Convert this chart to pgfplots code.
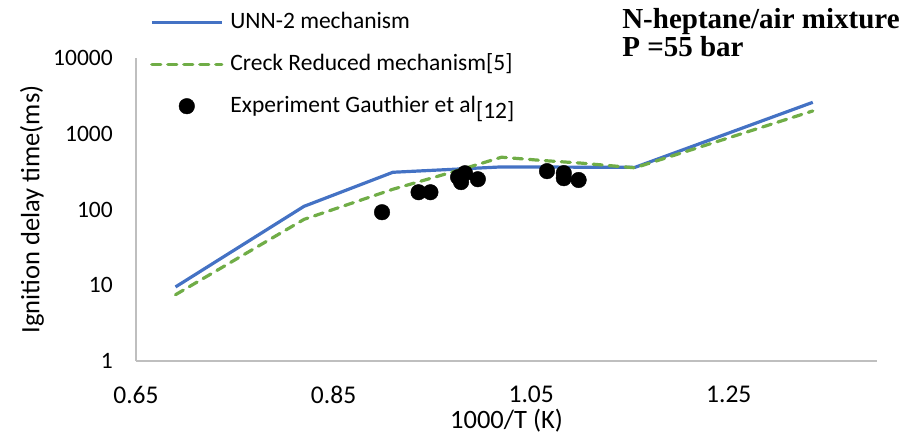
\documentclass[border=0pt]{standalone}
\usepackage{fontspec}
\setmainfont{Carlito}
\newfontfamily\titlefont{Liberation Serif}
\usepackage{pgfplots}
\pgfplotsset{compat=1.18}

\definecolor{unnblue}{HTML}{4472C4}
\definecolor{creckgreen}{HTML}{70AD47}
\definecolor{axisgray}{HTML}{BFBFBF}

\newcommand{\lbl}{\fontsize{23.5}{28}\selectfont}
\newcommand{\xlbl}{\fontsize{25.5}{28}\selectfont}
\newcommand{\ttl}{\fontsize{26.5}{30}\selectfont}

\begin{document}
\begin{tikzpicture}
\useasboundingbox (-136pt,-72pt) rectangle (769pt,361pt);
\begin{axis}[
  at={(0,0)}, anchor=south west,
  scale only axis, width=741pt, height=303pt,
  xmin=0.65, xmax=1.40,
  ymode=log, ymin=1, ymax=10000,
  axis x line=bottom, axis y line=left,
  axis line style={-, draw=axisgray, line width=1.3pt},
  major tick length=0pt, minor tick num=0,
  tick style={draw=none},
  /pgf/number format/assume math mode=true,
  xtick={0.65,0.85,1.05,1.25},
  xticklabels={0.65,0.85,1.05,1.25},
  ytick={1,10,100,1000,10000},
  yticklabels={1,10,100,1000,10000},
  yminorticks=false,
  xticklabel style={font=\xlbl, anchor=north, inner sep=0pt, yshift=-25pt},
  yticklabel style={font=\lbl, anchor=east, inner sep=0pt, xshift=-23pt},
  xlabel={1000/T (K)},
  ylabel={Ignition delay time(ms)},
  every axis x label/.style={at={(axis description cs:0.5,0)}, anchor=north, inner sep=0pt, yshift=-47.5pt, font=\ttl},
  every axis y label/.style={at={(axis description cs:-0.1404,0.5)}, rotate=90, anchor=center, inner sep=0pt, font=\ttl},
  clip=false,
  legend cell align=left,
  legend image code/.code={\draw[mark repeat=2, mark phase=2, #1] plot coordinates {(0pt,0pt) (35pt,0pt) (70pt,0pt)};},
  legend style={
    at={(rel axis cs:0,1)}, anchor=north west, xshift=14pt, yshift=47pt,
    draw=none, fill=none, inner sep=0pt, font=\lbl,
    row sep=20pt,
    nodes={inner sep=0pt, text height=17pt, text depth=5pt},
    /tikz/every odd column/.append style={column sep=7pt},
  },
]
% UNN-2 mechanism
\addplot[unnblue, line width=3.2pt, line join=round] coordinates {
  (0.69,9.5) (0.82,110) (0.91,310) (1.02,365) (1.155,360) (1.335,2600)
};
\addlegendentry{UNN-2 mechanism}

% Creck reduced mechanism
\addplot[creckgreen, line width=3.2pt, line cap=round, line join=round,
         dash pattern=on 9pt off 7pt] coordinates {
  (0.69,7.5) (0.82,74) (0.91,185) (0.98,340) (1.02,490) (1.06,445) (1.10,410) (1.155,355) (1.335,2000)
};
\addlegendentry{Creck Reduced mechanism[5]}

% Shock tube data, Gauthier et al.
\addplot[only marks, mark=*, mark size=7.8pt, black, mark options={fill=black, draw=black}] coordinates {
  (0.899,92) (0.936,169) (0.948,169)
  (0.976,267) (0.983,301) (0.979,230) (0.996,251)
  (1.066,321) (1.083,302) (1.083,259) (1.098,245)
};
\addlegendentry{Experiment Gauthier et al\raisebox{-6pt}{[12]}}

\node[anchor=north west, align=left, inner sep=0pt,
      font=\titlefont\bfseries\fontsize{29}{28}\selectfont]
  at (rel axis cs:0.656,1.165) {N-heptane/air mixture\\P =55 bar};
\end{axis}
\end{tikzpicture}
\end{document}
